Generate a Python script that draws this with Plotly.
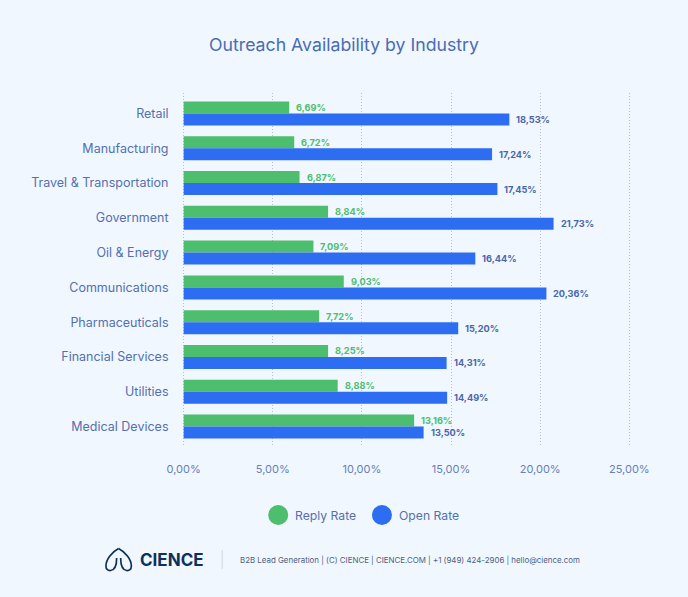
import plotly.graph_objects as go

industries = ["Retail", "Manufacturing", "Travel & Transportation", "Government", "Oil & Energy",
              "Communications", "Pharmaceuticals", "Financial Services", "Utilities", "Medical Devices"]
reply_bars = [5.92, 6.2, 6.5, 8.1, 7.28, 8.98, 7.6, 8.1, 8.64, 12.93]
open_bars = [18.27, 17.3, 17.6, 20.75, 16.36, 20.35, 15.4, 14.75, 14.78, 13.46]
reply_labels = ["6,69%", "6,72%", "6,87%", "8,84%", "7,09%", "9,03%", "7,72%", "8,25%", "8,88%", "13,16%"]
open_labels = ["18,53%", "17,24%", "17,45%", "21,73%", "16,44%", "20,36%", "15,20%", "14,31%", "14,49%", "13,50%"]
tick_vals = [0, 5, 10, 15, 20, 25]
tick_text = ["0,00%", "5,00%", "10,00%", "15,00%", "20,00%", "25,00%"]

W, H = 688, 597
PAD = 0.15
U = 445.5 / 25
L, R, T, B = 183.5 - PAD * U, 629 + PAD * U, 93, 447
BG = "#f1f7fe"
GREEN = "#4dbd6e"
BLUE = "#2c6df2"
TXT = "#5470b0"
FONT = "Inter, Lato, sans-serif"

def px(x): return (x - L) / (R - L)
def py(y): return (B - y) / (B - T)
def pt(a, b): return f"{px(a):.5f},{py(b):.5f}"

fig = go.Figure()
fig.add_bar(name="Reply Rate", y=industries, x=reply_bars, orientation="h", marker_color=GREEN, marker_line_width=0)
fig.add_bar(name="Open Rate", y=industries, x=open_bars, orientation="h", marker_color=BLUE, marker_line_width=0)

shapes = []
annos = []
for cat, rv, rl, ov, ol in zip(industries, reply_bars, reply_labels, open_bars, open_labels):
    annos.append(dict(x=rv, y=cat, xref="x", yref="y", text=rl, showarrow=False, xanchor="left", yanchor="middle",
                      xshift=5, yshift=6, font=dict(size=9.2, color=GREEN, family="Inter", weight=700)))
    annos.append(dict(x=ov, y=cat, xref="x", yref="y", text=ol, showarrow=False, xanchor="left", yanchor="middle",
                      xshift=5, yshift=-6, font=dict(size=9.2, color="#4a66aa", family="Inter", weight=700)))
# legend swatches
for cx, col in [(278, GREEN), (381.7, BLUE)]:
    shapes.append(dict(type="circle", xref="paper", yref="paper", x0=px(cx - 10), x1=px(cx + 10),
                       y0=py(525), y1=py(505), fillcolor=col, line_width=0))
for x, t in [(292.5, "Reply Rate"), (396.5, "Open Rate")]:
    annos.append(dict(x=px(x), y=py(515), xref="paper", yref="paper", text=t, showarrow=False, xanchor="left",
                      yanchor="middle", font=dict(size=12.2, color=TXT, family=FONT)))
# footer
annos.append(dict(x=px(137.5), y=py(559.5), xref="paper", yref="paper", text="CIENCE", showarrow=False, xanchor="left",
                  yanchor="middle", font=dict(size=17, color="#10305c", family="Inter", weight=700)))
annos.append(dict(x=px(237.5), y=py(560), xref="paper", yref="paper",
                  text="B2B Lead Generation | (C) CIENCE | CIENCE.COM | +1 (949) 424-2906 | hello@cience.com",
                  showarrow=False, xanchor="left", yanchor="middle", font=dict(size=7.9, color="#4d5f80", family=FONT)))
shapes.append(dict(type="line", xref="paper", yref="paper", x0=px(222), x1=px(222), y0=py(550), y1=py(569),
                   line=dict(color="#cfd6e0", width=1)))
# logo: two lobes meeting at the apex
left = (f"M {pt(118.4, 548.5)} C {pt(112, 552)} {pt(105.8, 559)} {pt(105.8, 566)} "
        f"C {pt(105.8, 569.5)} {pt(108, 570.8)} {pt(110.5, 570.5)} C {pt(114.5, 570)} {pt(116.5, 565)} {pt(116.5, 558)}")
right = (f"M {pt(118.4, 548.5)} C {pt(125, 552)} {pt(131.2, 559)} {pt(131.2, 566)} "
         f"C {pt(131.2, 569.5)} {pt(129, 570.8)} {pt(126.5, 570.5)} C {pt(122.5, 570)} {pt(120.5, 565)} {pt(120.5, 558)}")
for p in (left, right):
    shapes.append(dict(type="path", xref="paper", yref="paper", path=p, line=dict(color="#10305c", width=1.7)))

fig.update_layout(
    width=W, height=H, autosize=False, paper_bgcolor=BG, plot_bgcolor=BG, showlegend=False,
    barmode="group", bargap=0.31, bargroupgap=0,
    margin=dict(l=L, r=W - R, t=T, b=H - B, pad=0, autoexpand=False),
    title=dict(text="Outreach Availability by Industry", x=344 / W, xanchor="center", y=1 - 45 / H, yanchor="middle",
               font=dict(size=17.7, color="#4a6cb3", family=FONT)),
    font=dict(family=FONT, color=TXT),
    shapes=shapes, annotations=annos,
    xaxis=dict(range=[-PAD, 25 + PAD], tickvals=tick_vals, ticktext=tick_text, showgrid=True, griddash="1px,2px",
               gridcolor="#b4bfd6", gridwidth=1, zeroline=False, showline=False, ticks="outside", ticklen=12,
               tickcolor="rgba(0,0,0,0)", tickfont=dict(size=11, color="#6580bb"), automargin=False),
    yaxis=dict(type="category", categoryorder="array", categoryarray=industries, range=[9.59, -0.59],
               showgrid=False, zeroline=False, showline=False, ticks="outside", ticklen=9, tickcolor="rgba(0,0,0,0)",
               tickfont=dict(size=12.5, color=TXT), automargin=False),
)
fig.write_html("out.html", config={"displayModeBar": False},
               post_script="document.body.style.margin='0';document.body.style.background='%s';" % BG)
